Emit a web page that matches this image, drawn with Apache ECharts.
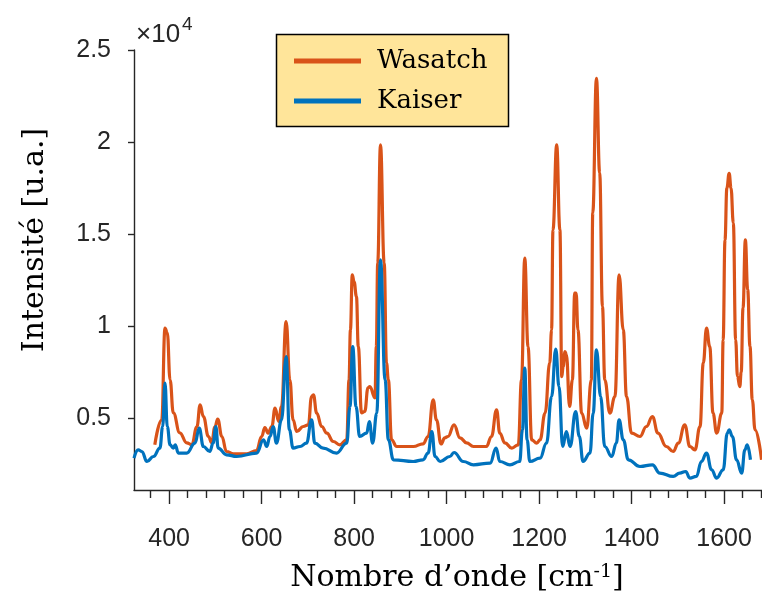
<!DOCTYPE html>
<html>
<head>
<meta charset="utf-8">
<title>Spectres Raman</title>
<script src="https://cdn.jsdelivr.net/npm/echarts@6/dist/echarts.min.js"></script>
<style>
  html, body { margin: 0; padding: 0; background: #fff; }
  #chart { width: 762px; height: 598px; }
</style>
</head>
<body>
<div id="chart"></div>
<script>
// Wasatch spectrum
var wasatchX = [369,384,391,396,402,409,423,438,449,460,467,474,485,492,499,505,514,524,539,568,589,600,607,614,622,629,637,643,653,661,668,676,690,701,708,712,719,730,741,755,769,784,789,792,796,800,805,809,816,823,830,834,845,848,851,857,865,870,874,881,892,928,949,960,971,978,988,996,1003,1016,1029,1043,1058,1086,1097,1108,1115,1126,1141,1155,1162,1169,1176,1184,1195,1202,1213,1223,1227,1230,1238,1245,1249,1252,1256,1259,1266,1272,1277,1280,1284,1292,1303,1313,1316,1324,1331,1337,1342,1353,1364,1373,1382,1389,1400,1418,1432,1445,1457,1475,1490,1501,1515,1526,1537,1548,1555,1562,1569,1576,1584,1595,1598,1602,1606,1611,1615,1620,1625,1629,1634,1637,1641,1646,1651,1656,1661,1667,1681];
var wasatchY = [3556,4913,9891,9636,7084,5293,4207,3664,3556,4533,5727,5092,4006,3664,4533,4951,4006,3192,3067,3067,3246,4006,4495,4191,4549,5548,4821,5635,10249,7084,4913,4277,4549,4641,6178,6270,5277,4549,4191,3735,3556,3827,7084,9799,12785,12400,11607,8892,5293,5364,6650,6720,6107,8892,13436,19842,13436,8007,7084,3827,3464,3464,3610,4006,5999,4913,3600,3936,4006,4641,3936,3664,3464,3464,4006,5456,4191,3664,3377,3556,7084,13691,8892,3827,3648,3827,5277,8007,9799,15228,19842,15228,7263,7800,8621,8450,5635,7084,11791,11800,9799,5277,4462,7084,16151,23464,18322,11064,7084,5277,6178,12785,9799,6178,4191,4006,4549,5092,4191,3464,3192,3648,4641,3464,3284,4549,7991,9891,8892,5277,4191,5277,9256,14684,17500,18306,17500,15608,9256,7263,6720,7500,11000,14684,12000,8900,6000,4370,2741];

// Kaiser spectrum
var kaiserX = [324,333,341,352,366,380,386,391,396,402,409,413,420,438,456,465,474,488,495,501,506,524,546,589,604,611,618,625,632,643,653,660,668,683,697,708,715,733,762,784,791,797,804,812,827,833,840,849,857,867,874,885,928,949,960,968,975,986,1007,1016,1036,1058,1094,1107,1115,1137,1158,1164,1169,1174,1180,1202,1216,1227,1236,1243,1251,1259,1267,1279,1287,1295,1310,1317,1324,1333,1342,1357,1367,1373,1382,1393,1418,1445,1461,1490,1504,1517,1526,1540,1551,1562,1573,1584,1598,1607,1611,1618,1627,1638,1645,1650,1657];
var kaiserY = [2833,3284,3192,2649,2920,3377,4549,6905,4549,3556,3377,3556,3105,3105,3648,4462,3464,3192,3648,4549,3377,3013,2920,3105,3827,3464,4006,4549,3648,4913,8349,4370,3377,3464,3648,4913,3648,3377,3105,3648,5635,8892,5635,4006,4191,4821,3648,5277,13599,7084,3827,2741,2649,2741,3105,4277,2920,2649,2920,3138,2649,2469,2562,3377,2649,2469,2649,4370,7720,3827,2649,2833,3648,6178,8760,6720,3464,4277,3464,5364,4006,2649,3105,5277,8713,6178,3464,2920,3648,4913,3827,2741,2377,2469,2019,1835,2019,2106,1747,1835,2649,3105,2198,1747,2198,4191,4370,4006,2741,2019,3284,3556,2741];

// tick values
var xMajorTicks = [400, 600, 800, 1000, 1200, 1400, 1600];
var xMinorTicks = [360,440,480,520,560,640,680,720,760,840,880,920,960,1040,1080,1120,1160,1240,1280,1320,1360,1440,1480,1520,1560,1640,1680];
var yTicks = [5000, 10000, 15000, 20000, 25000];

function pairs(xs, ys) {
    var out = [];
    for (var i = 0; i < xs.length; i++) {
        out.push([xs[i], ys[i]]);
    }
    return out;
}

var axisColor = '#262626';
var chart = echarts.init(document.getElementById('chart'), null, { renderer: 'canvas' });

var option = {
    animation: false,
    backgroundColor: '#fff',
    grid: { left: 134, top: 50, right: 0, bottom: 108, containLabel: false },
    xAxis: [{
        type: 'value',
        min: 324,
        max: 1682,
        axisLine: { show: true, lineStyle: { color: axisColor, width: 1.4 } },
        axisTick: { show: true, inside: false, length: 14, customValues: xMajorTicks, lineStyle: { color: axisColor, width: 1.4 } },
        axisLabel: {
            customValues: xMajorTicks,
            margin: 37,
            color: axisColor,
            fontFamily: 'Liberation Sans',
            fontSize: 25,
            formatter: function (v) { return String(v); }
        },
        splitLine: { show: false }
    }, {
        // minor ticks only
        type: 'value',
        position: 'bottom',
        min: 324,
        max: 1682,
        axisLine: { show: false },
        axisTick: { show: true, inside: false, length: 8, customValues: xMinorTicks, lineStyle: { color: axisColor, width: 1.4 } },
        axisLabel: { show: false },
        splitLine: { show: false }
    }],
    yAxis: {
        type: 'value',
        min: 1100,
        max: 25000,
        axisLine: { show: true, lineStyle: { color: axisColor, width: 1.4 } },
        axisTick: { show: true, inside: false, length: 6, customValues: yTicks, lineStyle: { color: axisColor, width: 1.4 } },
        axisLabel: {
            customValues: yTicks,
            margin: 23,
            color: axisColor,
            fontFamily: 'Liberation Sans',
            fontSize: 25,
            formatter: function (v) { return String(v / 10000); }
        },
        splitLine: { show: false }
    },
    legend: {
        orient: 'vertical',
        left: 294,
        top: 48,
        z: 20,
        icon: 'rect',
        itemWidth: 67,
        itemHeight: 5,
        itemGap: 14,
        padding: 0,
        textStyle: {
            fontFamily: 'DejaVu Serif',
            fontSize: 26,
            color: '#000',
            padding: [0, 0, 0, 11]
        },
        data: ['Wasatch', 'Kaiser']
    },
    graphic: [
        {
            type: 'rect',
            z: 10,
            shape: { x: 276.5, y: 34.5, width: 232, height: 92 },
            style: { fill: '#FFE59A', stroke: '#000', lineWidth: 1.5 }
        },
        {
            type: 'text',
            x: 136, y: 35,
            style: { text: '×10', fontFamily: 'Liberation Sans', fontSize: 26, fill: axisColor, verticalAlign: 'middle' }
        },
        {
            type: 'text',
            x: 182, y: 25,
            style: { text: '4', fontFamily: 'Liberation Sans', fontSize: 19, fill: axisColor, verticalAlign: 'middle' }
        },
        {
            type: 'text',
            x: 35, y: 240,
            rotation: Math.PI / 2,
            style: { text: 'Intensité [u.a.]', fontFamily: 'DejaVu Serif', fontSize: 30, fill: '#000', align: 'center', verticalAlign: 'middle' }
        },
        {
            type: 'text',
            x: 457, y: 578,
            style: {
                text: 'Nombre d’onde [cm{s|-1}]',
                fontFamily: 'DejaVu Serif',
                fontSize: 30,
                fill: '#000',
                align: 'center',
                verticalAlign: 'middle',
                rich: {
                    s: { fontFamily: 'DejaVu Serif', fontSize: 19, fill: '#000', verticalAlign: 'top' }
                }
            }
        }
    ],
    series: [{
        name: 'Wasatch',
        type: 'line',
        data: pairs(wasatchX, wasatchY),
        showSymbol: false,
        smooth: 0.45,
        smoothMonotone: 'x',
        z: 3,
        color: '#D95319',
        lineStyle: { color: '#D95319', width: 3.2 }
    }, {
        name: 'Kaiser',
        type: 'line',
        data: pairs(kaiserX, kaiserY),
        showSymbol: false,
        smooth: 0.45,
        smoothMonotone: 'x',
        z: 4,
        color: '#0072BD',
        lineStyle: { color: '#0072BD', width: 3.2 }
    }]
};

chart.setOption(option);
</script>
</body>
</html>
